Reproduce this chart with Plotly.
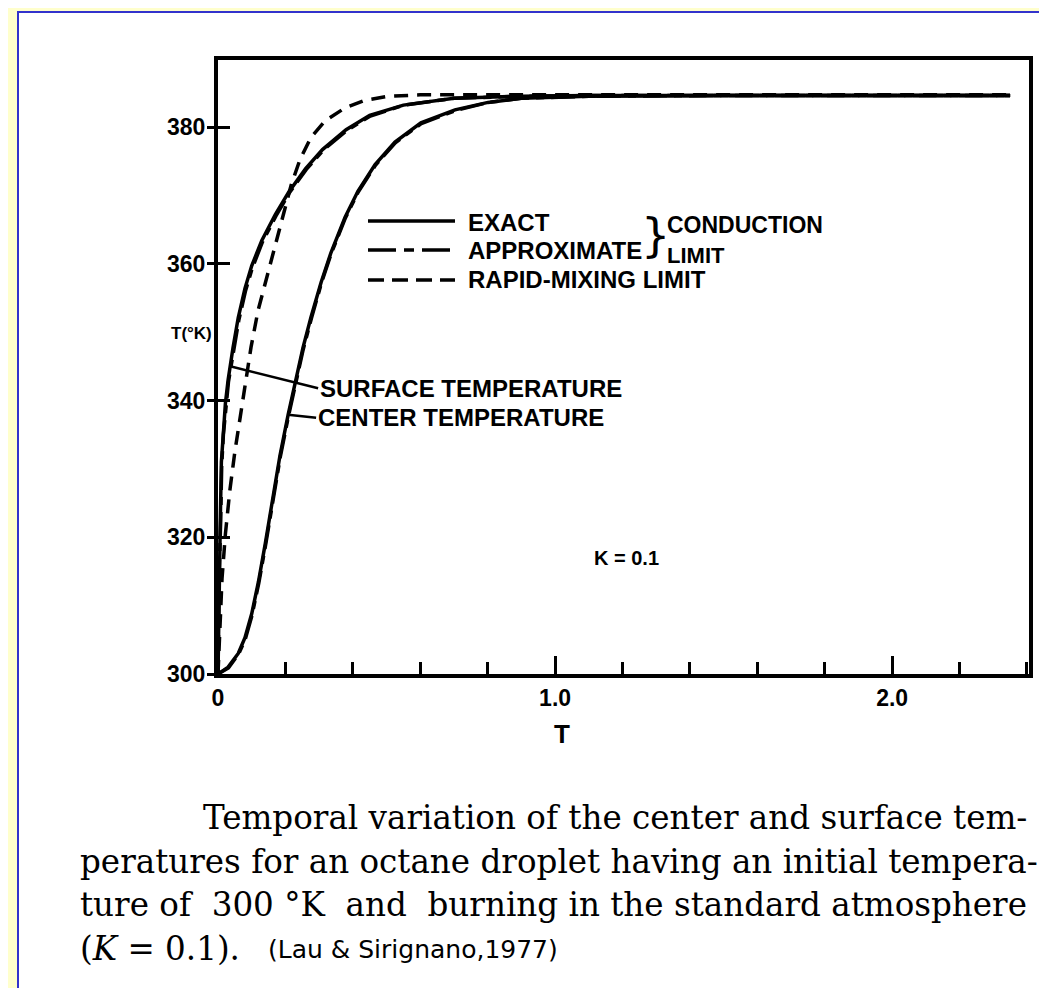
import plotly.graph_objects as go

# ---------------- data (tau, temperature in K) ----------------
surface_exact_tau = [0, 0.002, 0.004, 0.007, 0.010, 0.015, 0.022, 0.030, 0.036, 0.0445, 0.06, 0.08, 0.10,
                     0.13, 0.17, 0.21, 0.26, 0.31, 0.38, 0.45, 0.55, 0.70, 0.90, 1.10, 1.50, 2.00, 2.35]
surface_exact_T = [300, 309, 316, 323, 331, 335.5, 339.6, 343.0, 345, 347.7, 352.1, 356.4, 359.7,
                   363.4, 367.2, 370.5, 373.9, 376.7, 379.6, 381.7, 383.2, 384.2, 384.5, 384.6, 384.6, 384.6, 384.6]

center_exact_tau = [0, 0.030, 0.060, 0.080, 0.100, 0.120, 0.140, 0.160, 0.184, 0.208, 0.228, 0.252, 0.276,
                    0.306, 0.335, 0.377, 0.415, 0.466, 0.525, 0.602, 0.703, 0.801, 0.899, 1.10, 1.50, 2.00, 2.35]
center_exact_T = [300, 301.0, 303.0, 305.3, 308.8, 313.5, 319.0, 325.0, 332.0, 337.9, 342.6, 347.7, 352.2,
                  357.3, 361.6, 366.8, 370.6, 374.5, 377.8, 380.6, 382.5, 383.6, 384.2, 384.5, 384.6, 384.6, 384.6]

surface_approx_tau = [0, 0.002, 0.004, 0.008, 0.011, 0.016, 0.023, 0.031, 0.038, 0.046, 0.062, 0.082, 0.102,
                      0.132, 0.172, 0.212, 0.262, 0.312, 0.382, 0.452, 0.552, 0.70, 0.90, 1.10, 1.50, 2.00, 2.35]
surface_approx_T = [300, 308.5, 315.5, 322.5, 330.5, 335.0, 339.2, 342.7, 344.8, 347.4, 351.8, 356.1, 359.4,
                    363.2, 367.0, 370.4, 373.8, 376.6, 379.5, 381.6, 383.2, 384.2, 384.5, 384.6, 384.6, 384.6, 384.6]

center_approx_tau = [0, 0.031, 0.061, 0.081, 0.101, 0.121, 0.141, 0.161, 0.185, 0.209, 0.229, 0.253, 0.277,
                     0.307, 0.336, 0.378, 0.416, 0.467, 0.526, 0.603, 0.704, 0.802, 0.90, 1.10, 1.50, 2.00, 2.35]
center_approx_T = [300, 300.9, 302.9, 305.1, 308.6, 313.3, 318.8, 324.8, 331.8, 337.7, 342.4, 347.5, 352.0,
                   357.2, 361.5, 366.7, 370.5, 374.4, 377.7, 380.5, 382.4, 383.6, 384.2, 384.5, 384.6, 384.6, 384.6]

rapid_tau = [0, 0.005, 0.012, 0.022, 0.035, 0.050, 0.067, 0.083, 0.098, 0.119, 0.154, 0.178,
             0.217, 0.243, 0.276, 0.318, 0.377, 0.436, 0.504, 0.60, 0.80, 1.20, 1.80, 2.35]
rapid_T = [300, 307, 314, 320.5, 326.8, 332.5, 338.0, 343.4, 347.8, 353.2, 359.8, 364.6,
           371.5, 375.2, 378.5, 380.9, 382.8, 383.9, 384.5, 384.7, 384.7, 384.7, 384.7, 384.7]

x_tick_vals = [0, 1, 2]
x_tick_text = ["0", "1.0", "2.0"]
y_tick_vals = [300, 320, 340, 360, 380]
y_tick_text = ["300", "320", "340", "360", "380"]

# ---------------- layout geometry (pixels) ----------------
W, H = 1047, 988
L, R, TOP, BOT = 210, 1021, 52, 666
PW, PH = R - L, BOT - TOP


def px(xp):
    return (xp - L) / PW


def py(yp):
    return (BOT - yp) / PH


SANS = "Liberation Sans, Arial, sans-serif"
SERIF = "DejaVu Serif, serif"
LW = 3.5
DASH_RAPID = "14px,9px"
DASH_APPROX = "24px,7px,8px,7px"

fig = go.Figure()
fig.add_trace(go.Scatter(x=surface_approx_tau, y=surface_approx_T, mode="lines",
                         line=dict(color="black", width=LW, dash=DASH_APPROX), name="Approximate surface"))
fig.add_trace(go.Scatter(x=center_approx_tau, y=center_approx_T, mode="lines",
                         line=dict(color="black", width=LW, dash=DASH_APPROX), name="Approximate center"))
fig.add_trace(go.Scatter(x=rapid_tau, y=rapid_T, mode="lines",
                         line=dict(color="black", width=LW, dash=DASH_RAPID), name="Rapid-mixing limit"))
fig.add_trace(go.Scatter(x=surface_exact_tau, y=surface_exact_T, mode="lines",
                         line=dict(color="black", width=LW), name="Exact surface"))
fig.add_trace(go.Scatter(x=center_exact_tau, y=center_exact_T, mode="lines",
                         line=dict(color="black", width=LW), name="Exact center"))
fig.add_trace(go.Scatter(x=[], y=[], yaxis="y2", showlegend=False, hoverinfo="skip"))

ann = []


def text(s, x, y, size, xanchor="left", family=SANS, weight="bold"):
    ann.append(dict(text=s, x=px(x), y=py(y), xref="paper", yref="paper", showarrow=False,
                    xanchor=xanchor, yanchor="middle",
                    font=dict(family=family, size=size, color="black", weight=weight)))


# legend texts
text("EXACT", 458, 214, 24)
text("APPROXIMATE", 458, 242, 24)
text("RAPID-MIXING LIMIT", 458, 271, 24)
text("}", 647, 227, 46, xanchor="center", family="DejaVu Sans", weight="normal")
text("CONDUCTION", 657, 217, 23)
text("LIMIT", 657, 247, 22)

# other labels
text("K = 0.1", 618, 550, 20, xanchor="center")
text("T", 554, 726, 26, xanchor="center")
text("T(°K)", 206, 325, 17, xanchor="right")

# caption
text("Temporal variation of the center and surface tem-", 193, 810, 32.6, family=SERIF, weight="normal")
text("peratures for an octane droplet having an initial tempera-", 70, 854, 32.6, family=SERIF, weight="normal")
text("ture of\u00a0 300 °K\u00a0 and\u00a0 burning in the standard atmosphere", 70, 897, 32.6,
     family=SERIF, weight="normal")
text("(<i>K</i> = 0.1).", 70, 941, 32.6, family=SERIF, weight="normal")
text("(Lau & Sirignano,1977)", 258, 941, 25, family="DejaVu Sans", weight="normal")

# leader lines to curve labels
si = surface_exact_T.index(345)
ann.append(dict(x=surface_exact_tau[si], y=surface_exact_T[si], xref="x", yref="y",
                text="SURFACE TEMPERATURE", showarrow=True, arrowhead=0, arrowwidth=2.5,
                arrowcolor="black", ax=88, ay=22, xanchor="left", yanchor="middle",
                font=dict(family=SANS, size=24, color="black", weight="bold")))
ci = center_exact_T.index(337.9)
ann.append(dict(x=center_exact_tau[ci], y=center_exact_T[ci], xref="x", yref="y",
                text="CENTER TEMPERATURE", showarrow=True, arrowhead=0, arrowwidth=2.5,
                arrowcolor="black", ax=28, ay=3, xanchor="left", yanchor="middle",
                font=dict(family=SANS, size=24, color="black", weight="bold")))

shapes = [
    # page frame (white sheet with blue border on a pale yellow page)
    dict(type="rect", xref="paper", yref="paper", x0=px(10), x1=px(1070), y0=py(1010), y1=py(4),
         fillcolor="white", line=dict(color="#3333CC", width=2), layer="below"),
    # legend samples
    dict(type="line", xref="paper", yref="paper", x0=px(360), x1=px(447), y0=py(213), y1=py(213),
         line=dict(color="black", width=LW)),
    dict(type="line", xref="paper", yref="paper", x0=px(360), x1=px(447), y0=py(242), y1=py(242),
         line=dict(color="black", width=LW, dash="28px,8px,10px,8px")),
    dict(type="line", xref="paper", yref="paper", x0=px(360), x1=px(447), y0=py(272), y1=py(272),
         line=dict(color="black", width=LW, dash="16px,8px")),
]

tickfont = dict(family=SANS, size=23, color="black", weight="bold")
fig.update_layout(
    width=W, height=H, autosize=False,
    margin=dict(l=L, r=W - R, t=TOP, b=H - BOT, pad=0),
    paper_bgcolor="#FFFFCC", plot_bgcolor="rgba(0,0,0,0)",
    showlegend=False,
    xaxis=dict(range=[0, 2.406], showline=True, linewidth=4, linecolor="black", mirror=True,
               ticks="inside", tickvals=x_tick_vals, ticktext=x_tick_text, ticklen=18, tickwidth=3,
               tickcolor="black", tickfont=tickfont, showgrid=False, zeroline=False,
               minor=dict(tick0=0, dtick=0.2, ticks="inside", ticklen=12, tickwidth=3, tickcolor="black",
                          showgrid=False)),
    yaxis=dict(range=[300, 389.8], showline=True, linewidth=4, linecolor="black", mirror=True,
               ticks="outside", tickvals=y_tick_vals, ticktext=y_tick_text, ticklen=7, tickwidth=3,
               tickcolor="black", tickfont=tickfont, showgrid=False, zeroline=False,
               ticklabelstandoff=-3),
    yaxis2=dict(range=[300, 389.8], overlaying="y", side="left", ticks="inside", tickvals=y_tick_vals,
                ticklen=12, tickwidth=3, tickcolor="black", showticklabels=False, showgrid=False,
                zeroline=False, showline=False),
    annotations=ann,
    shapes=shapes,
)

fig.write_html("out.html")
